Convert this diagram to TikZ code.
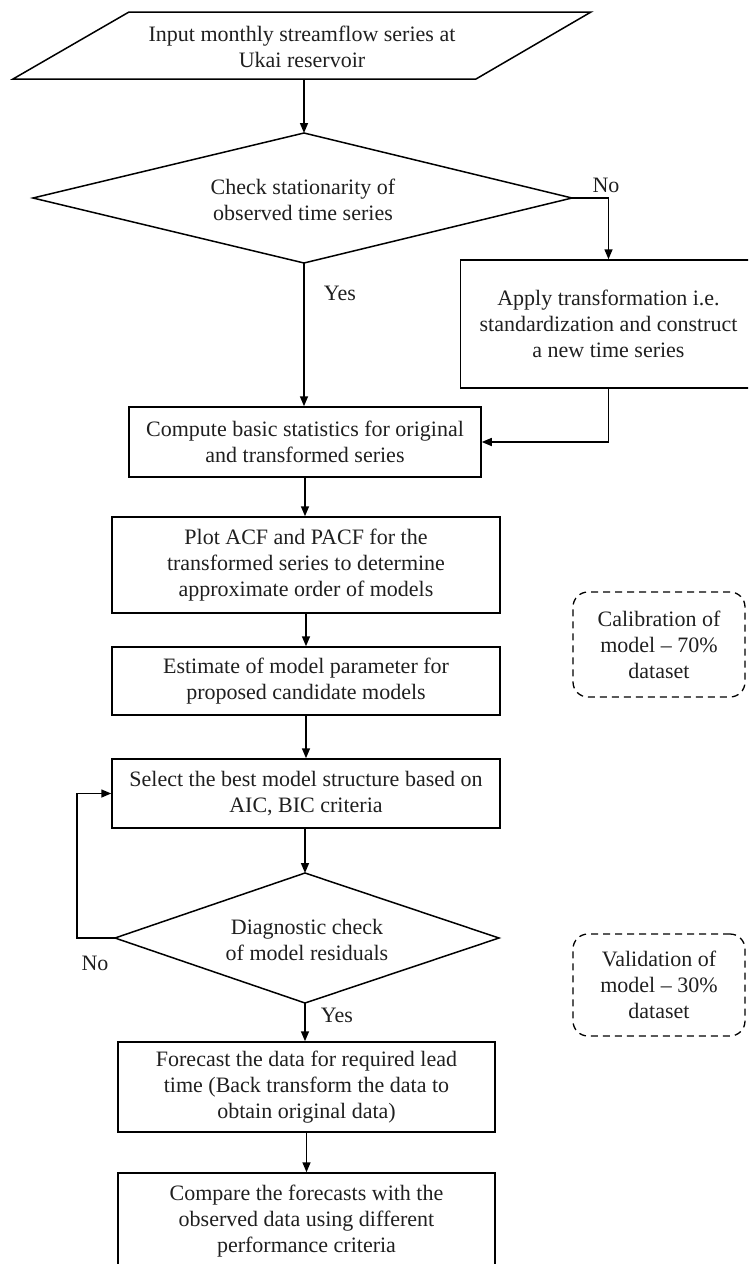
\documentclass[tikz,border=0pt]{standalone}
\usepackage{fontspec}
\setmainfont{Liberation Serif}
\usetikzlibrary{arrows.meta}
\begin{document}
\begin{tikzpicture}[x=1pt,y=-1pt,
  txt/.style={font=\fontsize{22}{26}\selectfont, text=black!88, align=center},
  box/.style={txt, draw, line width=1.5pt, inner sep=0pt},
  shapeline/.style={line width=1.5pt, line join=miter},
  note/.style={txt, draw, line width=1.3pt, dash pattern=on 7pt off 5pt, rounded corners=15pt, inner sep=0pt},
  arr/.style={line width=1.5pt, -{Triangle[length=10pt,width=8pt]}},
  lab/.style={txt}]
\useasboundingbox (0,0) rectangle (748,1264);
\clip (0,0) rectangle (748,1264);

% input parallelogram
\node[txt, minimum height=67pt] (in) at (302,46.5) {Input monthly streamflow series at\\Ukai reservoir};
\draw[shapeline] (129,12) -- (591,12) -- (476,79) -- (13,79) -- cycle;
\coordinate (inb) at (304,79);

% decision 1
\node[txt] (d1) at (303,200) {Check stationarity of\\observed time series};
\coordinate (d1n) at (304,133);
\coordinate (d1e) at (572,198);
\coordinate (d1s) at (304,263);
\coordinate (d1w) at (33,198);
\draw[shapeline] (d1n) -- (d1e) -- (d1s) -- (d1w) -- cycle;

\node[box, minimum width=296pt, minimum height=128pt] (apply) at (608.5,324) {Apply transformation i.e.\\standardization and construct\\a new time series};
\node[box, minimum width=352pt, minimum height=70pt] (comp) at (305,442) {Compute basic statistics for original\\and transformed series};
\node[box, minimum width=388pt, minimum height=96pt] (plot) at (306,565) {Plot ACF and PACF for the\\transformed series to determine\\approximate order of models};
\node[box, minimum width=388pt, minimum height=68pt] (est) at (306,681) {Estimate of model parameter for\\proposed candidate models};
\node[box, minimum width=388pt, minimum height=69pt] (sel) at (306,793.5) {Select the best model structure based on\\AIC, BIC criteria};

% decision 2
\node[txt] (d2) at (307,940) {Diagnostic check\\of model residuals};
\coordinate (d2n) at (305,873);
\coordinate (d2e) at (499,938);
\coordinate (d2s) at (305,1003);
\coordinate (d2w) at (115,938);
\draw[shapeline] (d2n) -- (d2e) -- (d2s) -- (d2w) -- cycle;

\node[box, minimum width=377pt, minimum height=90pt] (fc) at (306.5,1087) {Forecast the data for required lead\\time (Back transform the data to\\obtain original data)};
\node[box, minimum width=377pt, minimum height=96pt] (cmp) at (306.5,1221) {Compare the forecasts with the\\observed data using different\\performance criteria};

\node[note, minimum width=172pt, minimum height=105pt] (cal) at (659,644.5) {Calibration of\\model -- 70\%\\dataset};
\node[note, minimum width=172pt, minimum height=102pt] (val) at (659,985) {Validation of\\model -- 30\%\\dataset};

% connectors
\draw[arr] (inb) -- (d1n);
\draw[arr] (d1e) -| (apply.north);
\draw[arr] (d1s) -- (d1s |- comp.north);
\draw[arr] (apply.south) |- (comp.east);
\draw[arr] (comp.south) -- (plot.north -| comp.south);
\draw[arr] (plot.south) -- (est.north);
\draw[arr] (est.south) -- (sel.north);
\draw[arr] (sel.south -| d2n) -- (d2n);
\coordinate (lp) at (77,938);
\draw[arr] (d2w) -- (lp) |- (sel.west);
\draw[arr] (d2s) -- (d2s |- fc.north);
\draw[arr] (fc.south) -- (cmp.north);

% labels
\node[lab] (no1) at (606,185) {No};
\node[lab] (yes1) at (340,293) {Yes};
\node[lab] (no2) at (95,963) {No};
\node[lab] (yes2) at (337,1015) {Yes};
\end{tikzpicture}
\end{document}
